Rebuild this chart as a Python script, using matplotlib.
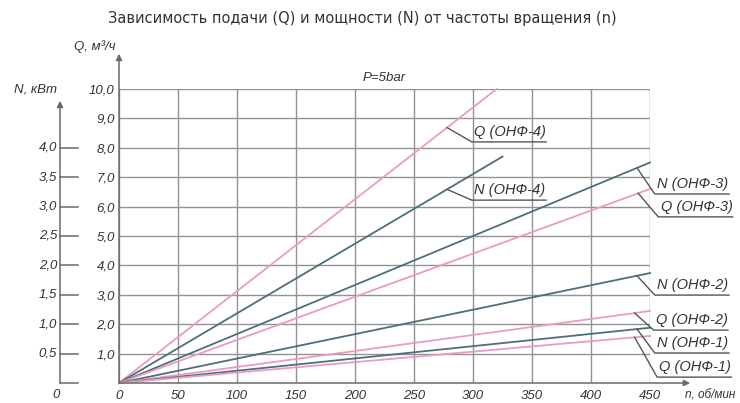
import matplotlib.pyplot as plt
from matplotlib.transforms import blended_transform_factory

# data
n_ticks = [0, 50, 100, 150, 200, 250, 300, 350, 400, 450]
q_ticks = [1, 2, 3, 4, 5, 6, 7, 8, 9, 10]
q_tick_labels = ['1,0', '2,0', '3,0', '4,0', '5,0', '6,0', '7,0', '8,0', '9,0', '10,0']
n_axis_ticks = [0.5, 1.0, 1.5, 2.0, 2.5, 3.0, 3.5, 4.0]
n_axis_labels = ['0,5', '1,0', '1,5', '2,0', '2,5', '3,0', '3,5', '4,0']

series_names = ['Q (ОНФ-4)', 'N (ОНФ-4)', 'N (ОНФ-3)', 'Q (ОНФ-3)',
                'N (ОНФ-2)', 'Q (ОНФ-2)', 'N (ОНФ-1)', 'Q (ОНФ-1)']
series_kind = ['Q', 'N', 'N', 'Q', 'N', 'Q', 'N', 'Q']
n_end = [320, 325, 450, 450, 450, 450, 450, 450]      # об/мин
value_end = [10.0, 3.85, 3.75, 6.6, 1.87, 2.45, 0.94, 1.6]  # м3/ч or кВт

# label leader: point on the line (n), end of leader (n, Q-scale)
anchor_n = [278, 278, 439, 440, 439, 437, 439, 437]
leader_end_n = [299, 299, 454, 457, 454, 453, 454, 456]
leader_end_q = [8.2, 6.22, 6.43, 5.65, 2.99, 1.80, 1.02, 0.20]

PINK = '#e99cc2'
DARK = '#4e6e7c'
GRID = '#929292'
AXIS = '#6a6a6a'
TXT = '#333333'
LAB = ['Liberation Sans', 'DejaVu Sans']

fig = plt.figure(figsize=(7.4, 4.03), dpi=100)
ax = fig.add_axes([119 / 740, 20 / 403, 531 / 740, 294 / 403])
ax.set_xlim(0, 450)
ax.set_ylim(0, 10)
for s in ax.spines.values():
    s.set_visible(False)

ax.set_xticks(n_ticks)
ax.set_xticklabels([str(v) for v in n_ticks], fontstyle='italic', family=LAB, fontsize=9.5, color=TXT)
ax.set_yticks(q_ticks)
ax.set_yticklabels(q_tick_labels, fontstyle='italic', family=LAB, fontsize=9.5, color=TXT)
ax.tick_params(length=0, pad=3)
ax.tick_params(axis='x', pad=5)
ax.grid(True, color=GRID, lw=1.0)

# series (N plotted on Q scale: 1 кВт = 2 м3/ч)
for name, kind, ne, ve in zip(series_names, series_kind, n_end, value_end):
    scale = 1 if kind == 'Q' else 2
    ax.plot([0, ne], [0, ve * scale], color=PINK if kind == 'Q' else DARK,
            lw=1.3, clip_on=False, zorder=3)

# labels with leaders
for i, name in enumerate(series_names):
    scale = 1 if series_kind[i] == 'Q' else 2
    ya = value_end[i] * scale * anchor_n[i] / n_end[i]
    ax.plot([anchor_n[i], leader_end_n[i], leader_end_n[i] + 63],
            [ya, leader_end_q[i], leader_end_q[i]], color='#555555', lw=1,
            clip_on=False, zorder=4)
    ax.text(leader_end_n[i] + 2, leader_end_q[i] + 0.1, name, fontstyle='italic',
            family=LAB, fontsize=10.5, color=TXT, ha='left', va='bottom')

# axes with arrows
arrow = dict(arrowstyle='-|>', color=AXIS, lw=1.1, mutation_scale=9, shrinkA=0, shrinkB=0)
ax.annotate('', xy=(0, 11.2), xytext=(0, 0), arrowprops=arrow, annotation_clip=False)
ax.annotate('', xy=(484, 0), xytext=(0, 0), arrowprops=arrow, annotation_clip=False)
ax.text(-3, 11.45, 'Q, м³/ч', fontstyle='italic', family=LAB, fontsize=9.5, color=TXT,
        ha='right', va='center')
ax.text(522, -0.42, 'n, об/мин', fontstyle='italic', family=LAB, fontsize=8.5, color=TXT,
        ha='right', va='center')

# N axis on the left
tr = blended_transform_factory(fig.transFigure, ax.transData)
xn = 60 / 740
ax.annotate('', xy=(xn, 9.6), xytext=(xn, 0), xycoords=tr, textcoords=tr,
            arrowprops=arrow, annotation_clip=False)
ax.plot([xn, 78 / 740], [0, 0], color=AXIS, lw=1.1, transform=tr, clip_on=False)
for v, lab in zip(n_axis_ticks, n_axis_labels):
    ax.plot([xn, 78 / 740], [v * 2, v * 2], color=AXIS, lw=1.1, transform=tr, clip_on=False)
    ax.text(57 / 740, v * 2, lab, transform=tr, fontstyle='italic', family=LAB,
            fontsize=9.5, color=TXT, ha='right', va='center')
ax.text(56 / 740, -0.42, '0', transform=tr, fontstyle='italic', family=LAB,
        fontsize=9.5, color=TXT, ha='center', va='center')
ax.text(36 / 740, 10.0, 'N, кВт', transform=tr, fontstyle='italic', family=LAB,
        fontsize=9.5, color=TXT, ha='center', va='center')

ax.text(225, 10.37, 'P=5bar', fontstyle='italic', family=LAB, fontsize=9.5,
        color=TXT, ha='center', va='center')

fig.text(362 / 740, 1 - 18 / 403, 'Зависимость подачи (Q) и мощности (N) от частоты вращения (n)',
         fontsize=10.5, color='#333333', ha='center', va='center')

fig.savefig('out.png', dpi=100)
